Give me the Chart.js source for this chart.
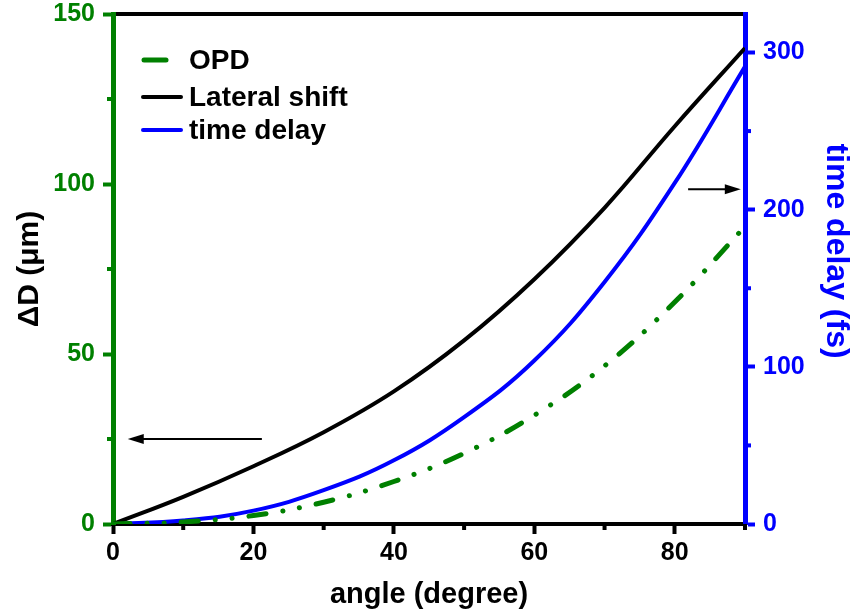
<!DOCTYPE html>
<html>
<head>
<meta charset="utf-8">
<script src="https://cdn.jsdelivr.net/npm/chart.js@4.4.1/dist/chart.umd.min.js"></script>
<style>
  html, body { margin: 0; padding: 0; background: #fff; }
  #wrap { width: 852px; height: 615px; }
</style>
</head>
<body>
<div id="wrap"><canvas id="chart" width="852" height="615"></canvas></div>
<script>
// incidence angle, degree
const angles = [0, 10, 20, 30, 40, 50, 60, 70, 80, 90];
// left axis, μm
const opd = [0, 0.6, 2.5, 6.4, 12.5, 20.8, 32, 46.5, 65.3, 87.5];
const lateralShift = [0, 8, 17, 27, 39, 54, 72, 93, 117, 140];
// right axis, fs
const timeDelay = [0, 2.2, 8.5, 21.5, 40.5, 68, 104, 154, 217, 291];

// tick positions
const xTicks = [0, 20, 40, 60, 80];
const xMinor = [10, 30, 50, 70, 90];
const leftTicks = [0, 50, 100, 150];
const leftMinor = [25, 75, 125];
const rightTicks = [0, 100, 200, 300];
const rightMinor = [50, 150, 250];

const GREEN = '#008000';
const BLUE = '#0000ff';
const BLACK = '#000000';
const FONT = "'Liberation Sans', Arial, sans-serif";

const toPoints = (ys) => angles.map((a, i) => ({ x: a, y: ys[i] }));
const setTicks = (list) => (axis) => { axis.ticks = list.map(v => ({ value: v })); };

// frame, minor ticks, arrows, right-hand title and the in-plot legend
const decorations = {
    id: 'decorations',
    beforeDraw(chart) {
        const { ctx, chartArea: a } = chart;
        ctx.save();
        ctx.strokeStyle = BLACK;
        ctx.lineWidth = 4;
        ctx.beginPath();
        ctx.moveTo(a.left, a.top);
        ctx.lineTo(a.right, a.top);
        ctx.stroke();
        ctx.restore();
    },
    afterDraw(chart) {
        const { ctx, chartArea: a, scales } = chart;
        ctx.save();
        ctx.lineWidth = 4;

        // minor ticks
        ctx.strokeStyle = BLACK;
        xMinor.forEach(v => {
            const px = scales.x.getPixelForValue(v);
            ctx.beginPath();
            ctx.moveTo(px, a.bottom);
            ctx.lineTo(px, a.bottom + 6);
            ctx.stroke();
        });
        ctx.strokeStyle = GREEN;
        leftMinor.forEach(v => {
            const py = scales.yL.getPixelForValue(v);
            ctx.beginPath();
            ctx.moveTo(a.left, py);
            ctx.lineTo(a.left - 6, py);
            ctx.stroke();
        });
        ctx.strokeStyle = BLUE;
        rightMinor.forEach(v => {
            const py = scales.yR.getPixelForValue(v);
            ctx.beginPath();
            ctx.moveTo(a.right, py);
            ctx.lineTo(a.right + 6, py);
            ctx.stroke();
        });

        // arrows pointing at the axis each curve belongs to
        const arrow = (x0, x1, y) => {
            const dir = Math.sign(x1 - x0);
            ctx.strokeStyle = BLACK;
            ctx.fillStyle = BLACK;
            ctx.lineWidth = 2;
            ctx.beginPath();
            ctx.moveTo(x0, y);
            ctx.lineTo(x1 - dir * 10, y);
            ctx.stroke();
            ctx.beginPath();
            ctx.moveTo(x1, y);
            ctx.lineTo(x1 - dir * 16, y - 5);
            ctx.lineTo(x1 - dir * 16, y + 5);
            ctx.closePath();
            ctx.fill();
        };
        arrow(scales.x.getPixelForValue(21.2), scales.x.getPixelForValue(2.1), scales.yL.getPixelForValue(25));
        arrow(scales.x.getPixelForValue(81.9), scales.x.getPixelForValue(89.4), scales.yR.getPixelForValue(213));

        // right axis title, reads top to bottom
        ctx.save();
        ctx.translate(a.right + 91, a.top + 237);
        ctx.rotate(Math.PI / 2);
        ctx.font = 'bold 32px ' + FONT;
        ctx.fillStyle = BLUE;
        ctx.textAlign = 'center';
        ctx.textBaseline = 'middle';
        ctx.fillText('time delay (fs)', 0, 0);
        ctx.restore();

        // legend
        const rows = [
            { y: 46, x0: 31, x1: 53 },
            { y: 83, x0: 30, x1: 68 },
            { y: 116, x0: 30, x1: 68 }
        ];
        ctx.font = 'bold 28px ' + FONT;
        ctx.textBaseline = 'middle';
        ctx.textAlign = 'left';
        chart.data.datasets.forEach((ds, i) => {
            const r = rows[i];
            const y = a.top + r.y;
            ctx.strokeStyle = ds.borderColor;
            ctx.lineWidth = ds.borderWidth;
            ctx.lineCap = 'round';
            ctx.setLineDash([]);
            ctx.beginPath();
            ctx.moveTo(a.left + r.x0, y);
            ctx.lineTo(a.left + r.x1, y);
            ctx.stroke();
            ctx.fillStyle = BLACK;
            ctx.fillText(ds.label, a.left + 76, y + 1);
        });
        ctx.restore();
    }
};

const tickFont = { family: FONT, size: 25, weight: 'bold' };
const titleFont = { family: FONT, size: 30, weight: 'bold' };

const ctx = document.getElementById('chart').getContext('2d');
new Chart(ctx, {
    type: 'line',
    data: {
        datasets: [
            {
                label: 'OPD',
                data: toPoints(opd),
                yAxisID: 'yL',
                borderColor: GREEN,
                borderWidth: 5,
                borderDash: [17, 17, 0.1, 17, 0.1, 17],
                borderCapStyle: 'round',
                pointRadius: 0,
                tension: 0.4
            },
            {
                label: 'Lateral shift',
                data: toPoints(lateralShift),
                yAxisID: 'yL',
                borderColor: BLACK,
                borderWidth: 4,
                pointRadius: 0,
                tension: 0.4
            },
            {
                label: 'time delay',
                data: toPoints(timeDelay),
                yAxisID: 'yR',
                borderColor: BLUE,
                borderWidth: 4,
                pointRadius: 0,
                tension: 0.4
            }
        ]
    },
    options: {
        responsive: false,
        devicePixelRatio: 1,
        animation: false,
        layout: { padding: { top: 14, left: 0, right: 0, bottom: 0 } },
        plugins: {
            legend: { display: false },
            tooltip: { enabled: false }
        },
        scales: {
            x: {
                type: 'linear',
                position: 'bottom',
                min: 0,
                max: 90,
                afterBuildTicks: setTicks(xTicks),
                afterFit: (s) => { s.height = 91; s.paddingLeft = 0; s.paddingRight = 0; },
                grid: { drawOnChartArea: false, tickLength: 10, tickWidth: 4, tickColor: BLACK },
                border: { color: BLACK, width: 4 },
                ticks: { color: BLACK, font: tickFont, padding: 4, maxRotation: 0 },
                title: {
                    display: true,
                    text: 'angle (degree)',
                    color: BLACK,
                    font: { family: FONT, size: 29, weight: 'bold' },
                    padding: { top: 0, bottom: 3 }
                }
            },
            yL: {
                type: 'linear',
                position: 'left',
                min: 0,
                max: 150,
                afterBuildTicks: setTicks(leftTicks),
                afterFit: (s) => { s.width = 113; s.paddingTop = 0; s.paddingBottom = 0; },
                grid: { drawOnChartArea: false, tickLength: 10, tickWidth: 4, tickColor: GREEN },
                border: { color: GREEN, width: 5 },
                ticks: { color: GREEN, font: tickFont, padding: 8 },
                title: {
                    display: true,
                    text: 'ΔD (μm)',
                    color: BLACK,
                    font: titleFont,
                    padding: { top: 12, bottom: 0 }
                }
            },
            yR: {
                type: 'linear',
                position: 'right',
                min: 0,
                max: 324.5,
                afterBuildTicks: setTicks(rightTicks),
                afterFit: (s) => { s.width = 107; s.paddingTop = 0; s.paddingBottom = 0; },
                grid: { drawOnChartArea: false, tickLength: 10, tickWidth: 4, tickColor: BLUE },
                border: { color: BLUE, width: 5 },
                ticks: { color: BLUE, font: tickFont, padding: 8 },
                title: { display: false }
            }
        }
    },
    plugins: [decorations]
});
</script>
</body>
</html>
